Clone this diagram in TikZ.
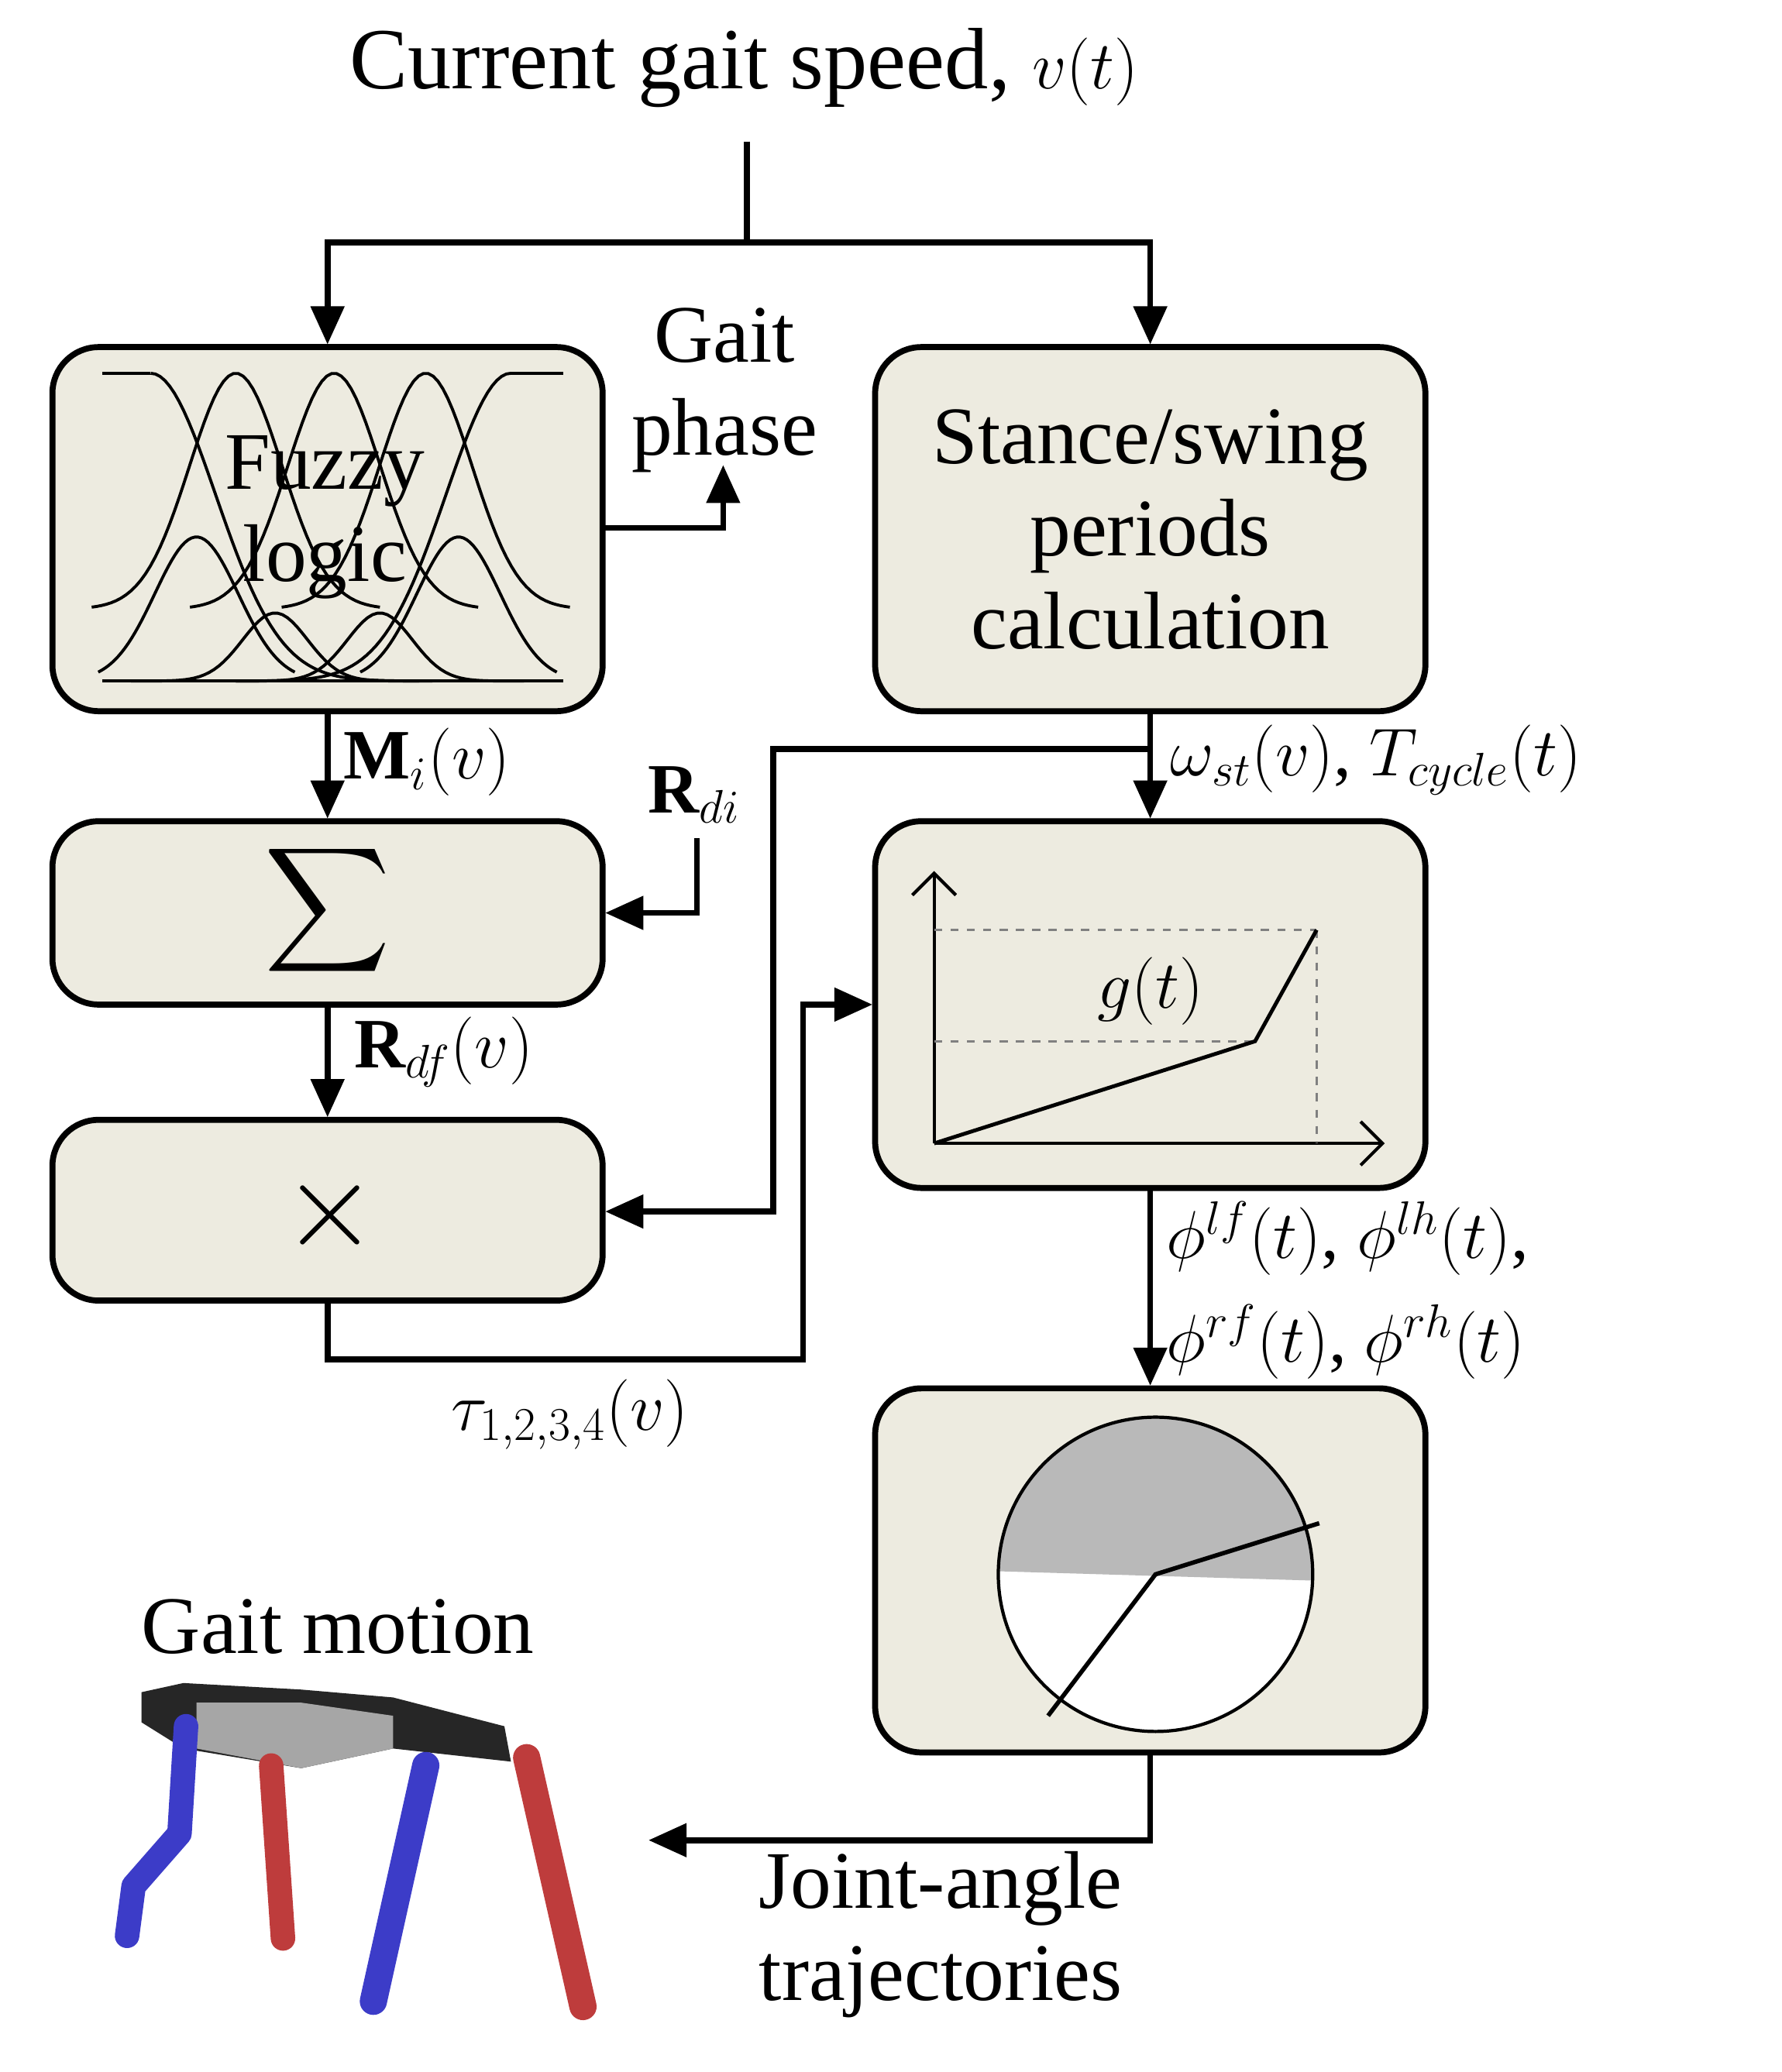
\documentclass[tikz,border=0pt]{standalone}
\usepackage{fontspec}
\setmainfont{Liberation Serif}
\usetikzlibrary{arrows.meta}
\definecolor{bx}{RGB}{237,235,224}
\definecolor{lblue}{RGB}{60,60,200}
\definecolor{lred}{RGB}{190,60,60}
\begin{document}
\begin{tikzpicture}[x=0.01691cm,y=-0.01691cm,
  blk/.style={draw,line width=2.2pt,fill=bx,rounded corners=17pt},
  ar/.style={line width=2.2pt,-{Triangle[length=14pt,width=12pt]}},
  ln/.style={line width=2.2pt},
  big/.style={font=\fontsize{30}{34}\selectfont,align=center},
  lab/.style={font=\fontsize{26}{30}\selectfont,inner sep=0pt}]
\useasboundingbox (0,0) rectangle (1360,1582);
% boxes
\draw[blk] (40,265) rectangle (460,543); \coordinate (fz) at (250,404);
\draw[blk] (668,265) rectangle (1088,543);
\node[big] (st) at (878,404) {Stance/swing\\periods\\calculation};
\draw[blk] (40,627) rectangle (460,767);
\node (sum) at (250,695) {\scalebox{3.2}{$\displaystyle\sum$}};
\draw[blk] (40,855) rectangle (460,993);
\node (tm) at (252,928) {\scalebox{4.5}{$\times$}};
\draw[blk] (668,627) rectangle (1088,907);
\draw[blk] (668,1060) rectangle (1088,1338);
% fuzzy curves
\begin{scope}[line width=1.1pt]
\draw (78,285) -- (115,285);
\draw[domain=115:330,samples=60] plot (\x,{285+235*(1-exp(-((\x-115)/70)^2))});
\draw (390,285) -- (430,285);
\draw[domain=180:390,samples=60] plot (\x,{285+235*(1-exp(-((\x-390)/70)^2))});
\foreach \c in {180,255,325}
  \draw[domain=\c-110:\c+110,samples=60] plot (\x,{285+180*(1-exp(-((\x-\c)/50)^2))});
\foreach \c in {210,290}
  \draw[domain=\c-110:\c+110,samples=60] plot (\x,{520-52*exp(-((\x-\c)/35)^2)});
\foreach \c in {150,350}
  \draw[domain=\c-75:\c+75,samples=60] plot (\x,{520-110*exp(-((\x-\c)/45)^2)});
\draw (78,520) -- (430,520);
\end{scope}
\node[big] (fl) at (248,395) {Fuzzy\\logic};
% graph
\draw[line width=1.2pt,-{Straight Barb[length=8pt]}] (713,873) -- (713,665);
\draw[line width=1.2pt,-{Straight Barb[length=8pt]}] (713,873) -- (1057,873);
\draw[dashed,gray,line width=0.8pt] (713,710) -- (1005,710) (713,795) -- (958,795) (1005,710) -- (1005,873);
\draw[line width=1.4pt] (713,873) -- (958,795) -- (1005,710);
\node[lab,font=\fontsize{34}{34}\selectfont] (g) at (878,757) {$g(t)$};
% circle
\fill[white] (882,1202) circle (120);
\begin{scope}
\clip (882,1202) circle (120);
\fill[gray!55] (740,1070) -- (1010,1070) -- (1010,1207) -- (740,1199) -- cycle;
\end{scope}
\draw[line width=1.2pt] (882,1202) circle (120);
\draw[line width=1.6pt] (1007,1163) -- (882,1202) -- (800,1310);
% title and top
\node[big,font=\fontsize{32}{36}\selectfont] (ti) at (568,52) {Current gait speed, $v(t)$};
\coordinate (a0) at (570,108); \coordinate (a1) at (570,185);
\draw[ln] (a0) -- (a1);
\draw[ar] (a1) -- (250,185) -- (250,263);
\draw[ar] (a1) -- (878,185) -- (878,263);
% gait phase
\draw[ar] (460,403) -- (552,403) -- (552,355);
\node[big] (gp) at (553,298) {Gait\\phase};
% fuzzy -> sum
\draw[ar] (250,543) -- (250,625);
\node[lab,anchor=west] (mi) at (262,582) {$\mathbf{M}_i(v)$};
\node[lab] (rdi) at (530,607) {$\mathbf{R}_{di}$};
\draw[ar] (532,640) -- (532,697) -- (462,697);
\draw[ar] (250,767) -- (250,853);
\node[lab,anchor=west] (rdf) at (270,803) {$\mathbf{R}_{df}(v)$};
% stance -> g
\draw[ar] (878,543) -- (878,625);
\draw[ar] (878,572) -- (590,572) -- (590,925) -- (462,925);
\node[lab,anchor=west] (om) at (893,580) {$\omega_{st}(v)$, $T_{cycle}(t)$};
% times -> g
\draw[ar] (250,993) -- (250,1038) -- (613,1038) -- (613,767) -- (666,767);
\node[lab] (tau) at (435,1080) {$\tau_{1,2,3,4}(v)$};
% g -> circle
\draw[ar] (878,907) -- (878,1058);
\node[lab,anchor=west,align=left] (ph) at (890,985) {$\phi^{lf}(t)$, $\phi^{lh}(t)$,\\[8pt]$\phi^{rf}(t)$, $\phi^{rh}(t)$};
% circle -> robot
\draw[ar] (878,1338) -- (878,1405) -- (495,1405);
\node[big] (ja) at (718,1477) {Joint-angle\\trajectories};
\node[big] (gm) at (258,1242) {Gait motion};
% robot
\fill[black!85] (108,1292) -- (140,1285) -- (230,1290) -- (300,1296) -- (385,1318) -- (390,1345) -- (300,1335) -- (230,1350) -- (140,1335) -- (108,1315) -- cycle;
\fill[gray!70] (150,1300) -- (230,1300) -- (300,1310) -- (300,1335) -- (230,1350) -- (150,1335) -- cycle;
\draw[lblue,line width=9pt,line cap=round,line join=round] (142,1318) -- (137,1400) -- (102,1440) -- (97,1478);
\draw[lred,line width=9pt,line cap=round] (207,1348) -- (216,1480);
\draw[lblue,line width=10pt,line cap=round] (325,1348) -- (285,1528);
\draw[lred,line width=10pt,line cap=round] (402,1342) -- (445,1532);
\end{tikzpicture}
\end{document}
